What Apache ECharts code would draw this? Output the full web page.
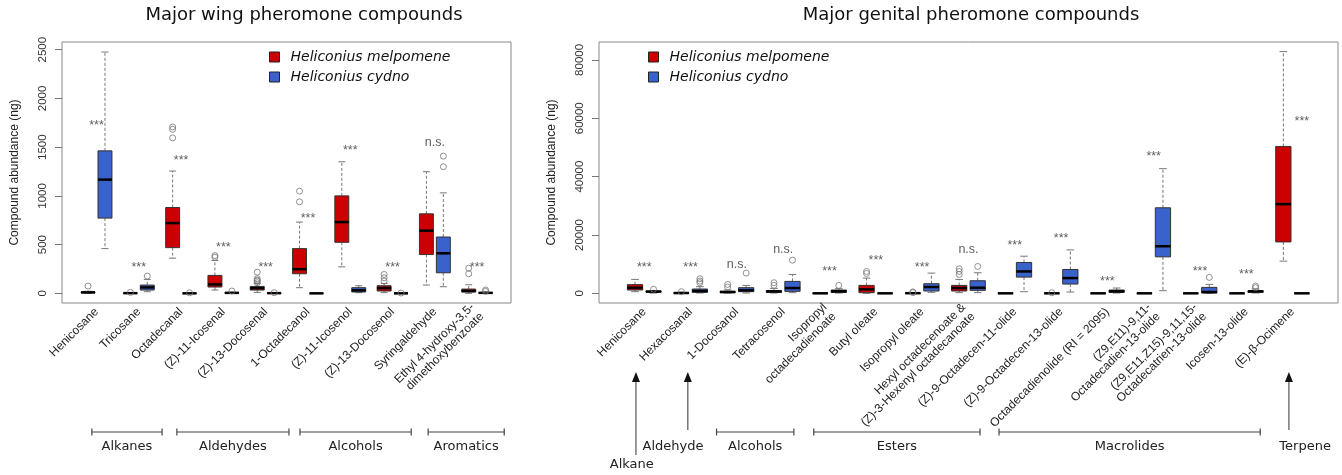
<!DOCTYPE html>
<html><head><meta charset="utf-8">
<script src="https://cdn.jsdelivr.net/npm/echarts@6/dist/echarts.min.js"></script>
<style>html,body{margin:0;padding:0;background:#fff}#c{width:1342px;height:475px}</style>
</head><body><div id="c"></div>
<script>
// ---------------- DATA ----------------
const speciesNames = ['Heliconius melpomene', 'Heliconius cydno'];

// Wing compounds: [min, q1, median, q3, max]
const wingCompounds = ['Henicosane', 'Tricosane', 'Octadecanal', '(Z)-11-Icosenal', '(Z)-13-Docosenal',
  '1-Octadecanol', '(Z)-11-Icosenol', '(Z)-13-Docosenol', 'Syringaldehyde', 'Ethyl 4-hydroxy-3,5-\ndimethoxybenzoate'];
const wingMelStats = [
  [0, 5, 10, 15, 22], [0, 0, 2, 4, 8], [361, 469, 721, 881, 1255], [34, 65, 92, 184, 337], [10, 34, 54, 71, 99],
  [58, 201, 248, 459, 731], [272, 524, 731, 1000, 1350], [7, 24, 54, 78, 102], [85, 398, 643, 816, 1248], [0, 14, 24, 44, 88]];
const wingCydStats = [
  [459, 772, 1167, 1462, 2476], [17, 34, 61, 85, 143], [0, 0, 0, 2, 4], [0, 2, 5, 8, 12], [0, 0, 2, 4, 6],
  [0, 0, 0, 0, 0], [7, 14, 31, 58, 78], [0, 0, 0, 1, 2], [68, 211, 411, 578, 1031], [0, 2, 5, 8, 14]];
// outliers: [compound index (1-based), value]
const wingMelOutliers = [[1, 75], [2, 10], [3, 1595], [3, 1683], [3, 1707], [4, 371], [4, 388],
  [5, 109], [5, 126], [5, 136], [5, 150], [5, 218], [6, 939], [6, 1048], [8, 126], [8, 160], [8, 194], [10, 201], [10, 258]];
const wingCydOutliers = [[2, 177], [3, 6], [4, 24], [5, 7], [8, 3], [9, 1299], [9, 1408], [10, 20], [10, 34]];
const wingSig = ['***', '***', '***', '***', '***', '***', '***', '***', 'n.s.', '***'];
const wingSigX = [1, 2, 3, 4, 5, 6, 7, 8, 9, 10];
const wingSigY = [1748, 299, 1398, 503, 299, 799, 1496, 299, 1547, 299];
const wingYTicks = [0, 500, 1000, 1500, 2000, 2500];

// Genital compounds
const genCompounds = ['Henicosane', 'Hexacosanal', '1-Docosanol', 'Tetracosenol', 'Isopropyl\noctadecadienoate',
  'Butyl oleate', 'Isopropyl oleate', 'Hexyl octadecenoate &\n(Z)-3-Hexenyl octadecanoate', '(Z)-9-Octadecen-11-olide',
  '(Z)-9-Octadecen-13-olide', 'Octadecadienolide (RI = 2095)', '(Z9,E11)-9,11-\nOctadecadien-13-olide',
  '(Z9,E11,Z15)-9,11,15-\nOctadecatrien-13-olide', 'Icosen-13-olide', '(E)-β-Ocimene'];
const genMelStats = [
  [568, 1136, 1932, 3000, 4773], [0, 50, 100, 200, 400], [50, 227, 455, 682, 1136], [100, 341, 682, 909, 1705],
  [0, 0, 0, 50, 100], [0, 227, 1364, 2727, 5227], [0, 0, 50, 100, 200], [227, 795, 1818, 2727, 4773],
  [0, 0, 0, 0, 0], [0, 0, 0, 50, 100], [0, 0, 0, 0, 0], [0, 0, 0, 0, 0], [0, 0, 0, 0, 0], [0, 0, 0, 0, 0],
  [11023, 17614, 30568, 50341, 82841]];
const genCydStats = [
  [100, 400, 600, 800, 1000], [114, 341, 795, 1477, 2273], [114, 568, 1023, 1932, 2727], [227, 682, 1818, 4091, 6477],
  [100, 341, 682, 1136, 1591], [0, 0, 0, 0, 0], [341, 795, 2159, 3295, 6932], [227, 1023, 1932, 4318, 7045],
  [568, 5568, 7500, 10568, 12727], [455, 3182, 5227, 8182, 14886], [114, 341, 682, 1136, 1818],
  [909, 12500, 16136, 29318, 42727], [0, 114, 455, 2045, 3068], [114, 341, 682, 909, 1477], [0, 0, 0, 0, 0]];
const genMelOutliers = [[2, 568], [3, 2159], [3, 3068], [4, 2727], [4, 3636], [6, 6818], [6, 7500], [7, 250], [7, 500],
  [8, 6477], [8, 7500], [8, 8409], [10, 200]];
const genCydOutliers = [[1, 1400], [2, 3636], [2, 4200], [2, 5000], [3, 6932], [4, 11364], [5, 2727], [8, 9205],
  [13, 5455], [14, 1932], [14, 2500]];
const genSig = ['***', '***', 'n.s.', 'n.s.', '***', '***', '***', 'n.s.', '***', '***', '***', '***', '***', '***', '***'];
const genSigX = [1, 2, 3, 4, 5, 6, 7, 8, 9, 10, 11, 12, 13, 14, 15.2];
const genSigY = [10000, 10000, 10000, 15000, 8409, 12386, 10000, 15000, 17500, 19886, 5000, 47841, 8409, 7500, 59886];
const genYTicks = [0, 20000, 40000, 60000, 80000];

// compound-class annotations (in compound-index units)
const wingGroups = [['Alkanes', 0.89, 2.55], ['Aldehydes', 2.9, 5.55], ['Alcohols', 5.81, 8.44], ['Aromatics', 8.84, 10.64]];
const genGroups = [['Alcohols', 2.56, 4.23], ['Esters', 4.66, 8.25], ['Macrolides', 8.66, 14.3]];
const genArrows = [['Alkane', 0.82, 0.73, 'low'], ['Aldehyde', 1.94, 1.62, 'mid'], ['Terpene', 14.92, 15.27, 'mid']];

// ---------------- STYLE ----------------
const RED = '#CC0000', BLUE = '#3A62CC';
const OFF = 0.2, BOX_W = 0.33;
const SANS = 'Liberation Sans';

function boxRenderer(fill, offset) {
  return function (params, api) {
    const x = api.value(0) + offset;
    const c = (v) => api.coord([x, v]);
    const pLo = c(api.value(1)), pQ1 = c(api.value(2)), pMd = c(api.value(3)), pQ3 = c(api.value(4)), pHi = c(api.value(5));
    const w = api.size([BOX_W, 0])[0];
    const cx = pMd[0];
    const whisk = { stroke: '#777', lineWidth: 1, lineDash: [3, 2] };
    const cap = { stroke: '#777', lineWidth: 1 };
    return {
      type: 'group', children: [
        { type: 'line', shape: { x1: cx, y1: pQ3[1], x2: cx, y2: pHi[1] }, style: whisk },
        { type: 'line', shape: { x1: cx, y1: pQ1[1], x2: cx, y2: pLo[1] }, style: whisk },
        { type: 'line', shape: { x1: cx - w / 4, y1: pHi[1], x2: cx + w / 4, y2: pHi[1] }, style: cap },
        { type: 'line', shape: { x1: cx - w / 4, y1: pLo[1], x2: cx + w / 4, y2: pLo[1] }, style: cap },
        { type: 'rect', shape: { x: cx - w / 2, y: pQ3[1], width: w, height: pQ1[1] - pQ3[1] }, style: { fill: fill, stroke: '#333', lineWidth: 1 } },
        { type: 'line', shape: { x1: cx - w / 2, y1: pMd[1], x2: cx + w / 2, y2: pMd[1] }, style: { stroke: '#000', lineWidth: 2.5 } }
      ]
    };
  };
}

function boxSeries(name, stats, fill, offset, axis) {
  return {
    name: name, type: 'custom', xAxisIndex: axis, yAxisIndex: axis,
    itemStyle: { color: fill, borderColor: '#222', borderWidth: 1 },
    renderItem: boxRenderer(fill, offset),
    encode: { x: 0, y: [1, 2, 3, 4, 5] },
    data: stats.map((s, i) => [i + 1].concat(s)),
    z: 3
  };
}
function outlierSeries(name, outs, offset, axis) {
  return {
    name: name, type: 'scatter', xAxisIndex: axis, yAxisIndex: axis, symbol: 'circle', symbolSize: 6,
    itemStyle: { color: 'rgba(0,0,0,0)', borderColor: '#777', borderWidth: 1 },
    data: outs.map(o => [o[0] + offset, o[1]]), z: 4, silent: true
  };
}
function sigSeries(labels, xs, ys, axis) {
  return {
    name: 'sig' + axis, type: 'scatter', xAxisIndex: axis, yAxisIndex: axis, symbolSize: 0, silent: true,
    data: labels.map((s, i) => ({
      value: [xs[i], ys[i]],
      label: { show: true, position: 'inside', formatter: s, offset: [0, s === '***' ? 3 : 0],
        fontFamily: SANS, fontSize: 12.5, color: '#333' }
    })), z: 5
  };
}
function xAxis(names, min, max, idx) {
  return {
    gridIndex: idx, type: 'value', min: min, max: max,
    axisLine: { show: false }, axisTick: { show: false }, splitLine: { show: false },
    axisLabel: {
      customValues: names.map((_, i) => i + 1), formatter: v => names[Math.round(v) - 1],
      rotate: 45, margin: 7, fontSize: 12, fontFamily: SANS, color: '#222', hideOverlap: false, lineHeight: 13
    }
  };
}
function yAxis(ticks, min, max, idx) {
  return {
    gridIndex: idx, type: 'value', min: min, max: max,
    axisLine: { show: false }, splitLine: { show: false },
    axisTick: { show: true, customValues: ticks, length: 7, lineStyle: { color: '#777' } },
    axisLabel: { customValues: ticks, formatter: v => String(v), rotate: 90, margin: 13, fontSize: 11.5, fontFamily: SANS, color: '#333' },
    name: 'Compound abundance (ng)', nameLocation: 'middle', nameRotate: 90, nameGap: 41,
    nameTextStyle: { fontSize: 12, fontFamily: SANS, color: '#222' }
  };
}
function legend(left) {
  return {
    data: speciesNames, left: left, top: 49, orient: 'vertical', padding: 0, icon: 'rect',
    itemWidth: 10, itemHeight: 10, itemGap: 4, selectedMode: false,
    itemStyle: { borderColor: '#222', borderWidth: 1 },
    textStyle: { fontFamily: 'DejaVu Sans', fontStyle: 'italic', fontSize: 14, color: '#111', lineHeight: 16, padding: [0, 0, 0, 6] }
  };
}

const option = {
  animation: false,
  backgroundColor: '#fff',
  title: [
    { text: 'Major wing pheromone compounds', left: 304, top: 6, textAlign: 'center', padding: 0,
      textStyle: { fontFamily: 'DejaVu Sans', fontSize: 18, fontWeight: 'normal', color: '#111' } },
    { text: 'Major genital pheromone compounds', left: 971, top: 6, textAlign: 'center', padding: 0,
      textStyle: { fontFamily: 'DejaVu Sans', fontSize: 18, fontWeight: 'normal', color: '#111' } }
  ],
  legend: [legend(269), legend(648)],
  grid: [
    { left: 62, top: 42, width: 449, height: 261, show: true, borderColor: '#888', borderWidth: 1, backgroundColor: 'transparent' },
    { left: 599, top: 42, width: 739, height: 261, show: true, borderColor: '#888', borderWidth: 1, backgroundColor: 'transparent' }
  ],
  xAxis: [xAxis(wingCompounds, 0.184, 10.80, 0), xAxis(genCompounds, 0.022, 15.98, 1)],
  yAxis: [yAxis(wingYTicks, -99, 2579, 0), yAxis(genYTicks, -3313, 86133, 1)],
  series: [
    boxSeries(speciesNames[0], wingMelStats, RED, -OFF, 0),
    boxSeries(speciesNames[1], wingCydStats, BLUE, OFF, 0),
    outlierSeries('wingMelOut', wingMelOutliers, -OFF, 0),
    outlierSeries('wingCydOut', wingCydOutliers, OFF, 0),
    sigSeries(wingSig, wingSigX, wingSigY, 0),
    boxSeries(speciesNames[0], genMelStats, RED, -OFF, 1),
    boxSeries(speciesNames[1], genCydStats, BLUE, OFF, 1),
    outlierSeries('genMelOut', genMelOutliers, -OFF, 1),
    outlierSeries('genCydOut', genCydOutliers, OFF, 1),
    sigSeries(genSig, genSigX, genSigY, 1)
  ]
};

const chart = echarts.init(document.getElementById('c'), null, { renderer: 'canvas' });
chart.setOption(option);

// compound-class annotations below the axes
const BR_Y = 432, TXT_Y = 446, ARROW_TOP = 372;
const lineStyle = { stroke: '#444', lineWidth: 1.2 };
const txtStyle = (t) => ({ text: t, fontFamily: 'DejaVu Sans', fontSize: 13, fill: '#222', align: 'center', verticalAlign: 'middle', textAlign: 'center', textVerticalAlign: 'middle' });
const els = [];
function addGroups(groups, axis) {
  groups.forEach(g => {
    const a = chart.convertToPixel({ xAxisIndex: axis }, g[1]);
    const b = chart.convertToPixel({ xAxisIndex: axis }, g[2]);
    els.push({ type: 'line', shape: { x1: a, y1: BR_Y, x2: b, y2: BR_Y }, style: lineStyle });
    els.push({ type: 'line', shape: { x1: a, y1: BR_Y - 3.5, x2: a, y2: BR_Y + 3.5 }, style: lineStyle });
    els.push({ type: 'line', shape: { x1: b, y1: BR_Y - 3.5, x2: b, y2: BR_Y + 3.5 }, style: lineStyle });
    els.push({ type: 'text', x: (a + b) / 2, y: TXT_Y + 1, style: txtStyle(g[0]) });
  });
}
addGroups(wingGroups, 0);
addGroups(genGroups, 1);
genArrows.forEach(g => {
  const ax = chart.convertToPixel({ xAxisIndex: 1 }, g[1]);
  const tx = chart.convertToPixel({ xAxisIndex: 1 }, g[2]);
  const low = g[3] === 'low';
  const yB = low ? 455 : 430;
  els.push({ type: 'line', shape: { x1: ax, y1: yB, x2: ax, y2: ARROW_TOP + 9 }, style: { stroke: '#555', lineWidth: 1.2 } });
  els.push({ type: 'polygon', shape: { points: [[ax, ARROW_TOP], [ax - 4, ARROW_TOP + 10], [ax + 4, ARROW_TOP + 10]] }, style: { fill: '#111' } });
  els.push({ type: 'text', x: tx, y: low ? 465 : TXT_Y + 1, style: txtStyle(g[0]) });
});
chart.setOption({ graphic: { elements: els } });
</script>
</body></html>
